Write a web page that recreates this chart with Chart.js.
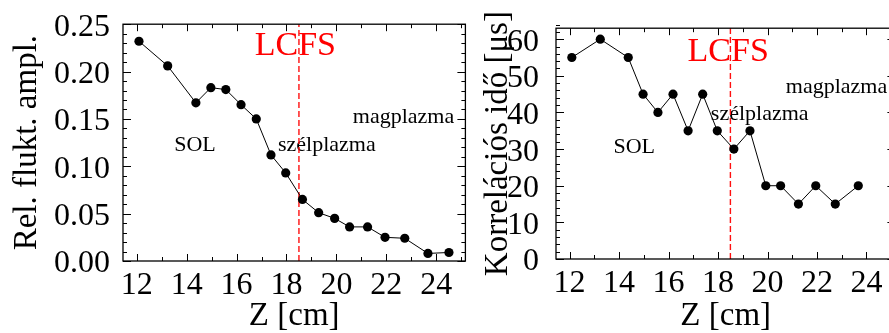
<!DOCTYPE html>
<html>
<head>
<meta charset="utf-8">
<script src="https://cdn.jsdelivr.net/npm/chart.js@4/dist/chart.umd.min.js"></script>
<style>
html, body { margin: 0; padding: 0; background: #fff; overflow: hidden; }
#wrap { position: relative; width: 889px; height: 333px; overflow: hidden; }
#c1 { position: absolute; left: 0; top: 0; }
#c2 { position: absolute; left: 470px; top: 0; }
</style>
</head>
<body>
<div id="wrap">
    <canvas id="c1" width="470" height="333"></canvas>
    <canvas id="c2" width="430" height="333"></canvas>
</div>
<script>
// values
const zPos = [12.09, 13.24, 14.37, 14.97, 15.57, 16.18, 16.79, 17.38, 17.97, 18.64, 19.29, 19.93, 20.53, 21.25, 21.95, 22.74, 23.67, 24.51];
const relAmpl = [0.232, 0.206, 0.167, 0.183, 0.181, 0.165, 0.150, 0.112, 0.093, 0.065, 0.051, 0.045, 0.036, 0.036, 0.025, 0.024, 0.008, 0.009];
const corrTime = [55, 60, 55, 45, 40, 45, 35, 45, 35, 30, 35, 20, 20, 15, 20, 15, 20];

const zTicks = [12, 14, 16, 18, 20, 22, 24];
const amplTicks = [0, 0.05, 0.10, 0.15, 0.20, 0.25];
const corrTicks = [0, 10, 20, 30, 40, 50, 60];

const lcfsZ = 18.5;

const serif = "'Liberation Serif', 'Times New Roman', serif";

// IDL style frame: inward ticks on all four sides, LCFS line and labels
const idlFrame = {
    id: 'idlFrame',
    beforeDatasetsDraw(chart, args, o) {
        const { ctx, chartArea: a, scales: { x, y } } = chart;
        ctx.save();
        ctx.textAlign = 'left';
        ctx.textBaseline = 'alphabetic';
        o.labels.forEach(l => {
            ctx.fillStyle = l.color || '#000';
            ctx.font = (l.size || 22) + 'px ' + serif;
            ctx.fillText(l.text, x.getPixelForValue(l.x), y.getPixelForValue(l.y));
        });

        const lx = x.getPixelForValue(lcfsZ);
        ctx.strokeStyle = '#ff1010';
        ctx.lineWidth = 1.4;
        ctx.setLineDash([6, 3]);
        ctx.beginPath();
        ctx.moveTo(lx, a.bottom);
        ctx.lineTo(lx, a.top);
        ctx.stroke();
        ctx.restore();
    },
    afterDraw(chart, args, o) {
        const { ctx, chartArea: a, scales: { x, y } } = chart;
        ctx.save();
        ctx.strokeStyle = '#000';
        ctx.lineWidth = 1.3;
        ctx.strokeRect(a.left, a.top, a.right - a.left, a.bottom - a.top);

        ctx.lineWidth = 1;
        ctx.beginPath();
        for (let v = Math.ceil(x.min); v <= x.max; v += 1) {
            const px = Math.round(x.getPixelForValue(v)) + 0.5;
            const len = v % 2 === 0 ? 7 : 4;
            ctx.moveTo(px, a.bottom); ctx.lineTo(px, a.bottom - len);
            ctx.moveTo(px, a.top); ctx.lineTo(px, a.top + len);
        }
        const n = Math.round((y.max - y.min) / o.minorY);
        for (let i = 0; i <= n; i++) {
            const v = y.min + i * o.minorY;
            const py = Math.round(y.getPixelForValue(v)) + 0.5;
            const len = i % 5 === 0 ? 8 : 4;
            ctx.moveTo(a.left, py); ctx.lineTo(a.left + len, py);
            ctx.moveTo(a.right, py); ctx.lineTo(a.right - len, py);
        }
        ctx.stroke();
        ctx.restore();
    }
};

function makeChart(id, yVals, yTicks, yMin, yMax, yFmt, yTitle, yWidth, xHeight, pad, yPad, titlePad, minorY, labels) {
    const points = yVals.map((v, i) => ({ x: zPos[i], y: v }));
    return new Chart(document.getElementById(id), {
        type: 'scatter',
        data: {
            datasets: [{
                data: points,
                showLine: true,
                borderColor: '#000',
                borderWidth: 1,
                backgroundColor: '#000',
                pointRadius: 4.6,
                pointBorderWidth: 0
            }]
        },
        options: {
            responsive: false,
            animation: false,
            layout: { padding: pad },
            plugins: {
                legend: { display: false },
                tooltip: { enabled: false },
                idlFrame: { labels: labels, minorY: minorY }
            },
            scales: {
                x: {
                    type: 'linear',
                    min: 11.45,
                    max: 25.17,
                    afterBuildTicks: s => { s.ticks = zTicks.map(v => ({ value: v })); },
                    afterFit: s => { s.height = xHeight; },
                    grid: { display: false },
                    border: { display: false },
                    ticks: {
                        autoSkip: false,
                        maxRotation: 0,
                        padding: -3,
                        color: '#000',
                        font: { family: serif, size: 32 }
                    },
                    title: {
                        display: true,
                        text: 'Z [cm]',
                        color: '#000',
                        font: { family: serif, size: 33 },
                        padding: { top: 0, bottom: -3 }
                    }
                },
                y: {
                    type: 'linear',
                    min: yMin,
                    max: yMax,
                    afterBuildTicks: s => { s.ticks = yTicks.map(v => ({ value: v })); },
                    afterFit: s => { s.width = yWidth; },
                    grid: { display: false },
                    border: { display: false },
                    ticks: {
                        autoSkip: false,
                        padding: yPad,
                        labelOffset: 3,
                        color: '#000',
                        font: { family: serif, size: 32 },
                        callback: yFmt
                    },
                    title: {
                        display: true,
                        text: yTitle,
                        color: '#000',
                        font: { family: serif, size: 33 },
                        padding: { top: titlePad, bottom: 0 }
                    }
                }
            }
        },
        plugins: [idlFrame]
    });
}

makeChart('c1', relAmpl, amplTicks, 0, 0.25, v => v.toFixed(2), 'Rel. flukt. ampl.',
    123, 72, { top: 18, right: 4, left: 0, bottom: 0 }, 5, 8, 0.01, [
        { text: 'LCFS', x: 16.73, y: 0.217, color: '#ff0000', size: 34 },
        { text: 'SOL', x: 13.5, y: 0.1165 },
        { text: 'szélplazma', x: 17.66, y: 0.1165 },
        { text: 'magplazma', x: 20.66, y: 0.146 }
    ]);

makeChart('c2', corrTime, corrTicks, 0, 63, v => String(v), 'Korrelációs idő [μs]',
    86, 74, { top: 16, right: 4, left: 0, bottom: 0 }, 9, 9, 2, [
        { text: 'LCFS', x: 16.77, y: 54.1, color: '#ff0000', size: 34 },
        { text: 'SOL', x: 13.77, y: 28.8 },
        { text: 'szélplazma', x: 17.71, y: 37.95 },
        { text: 'magplazma', x: 20.74, y: 45.2 }
    ]);
</script>
</body>
</html>
